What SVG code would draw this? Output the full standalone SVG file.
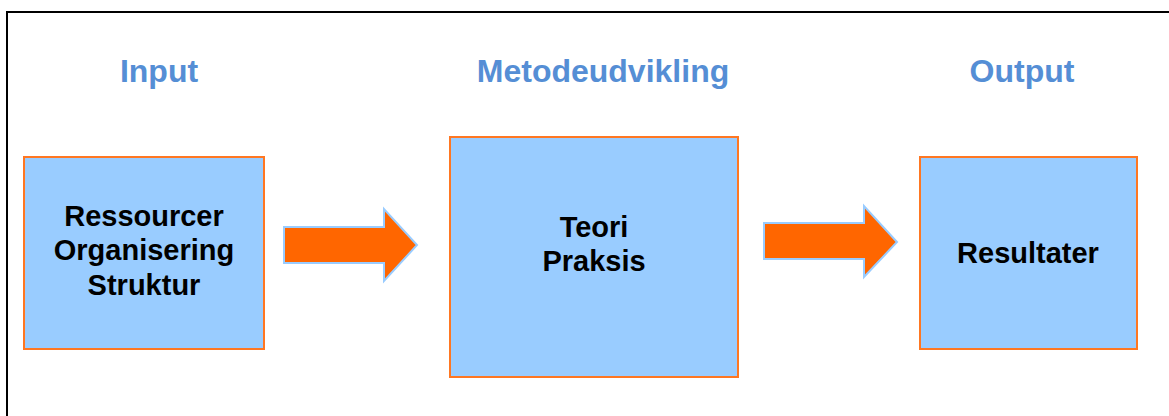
<svg xmlns="http://www.w3.org/2000/svg" width="1169" height="416" viewBox="0 0 1169 416">
<style>
.title{font-family:"Liberation Sans",Arial,sans-serif;font-weight:bold;font-size:32px;fill:#558ED5;text-anchor:middle}
.lbl{font-family:"Liberation Sans",Arial,sans-serif;font-weight:bold;font-size:29px;fill:#000;text-anchor:middle}
.box{fill:#99CCFF;stroke:#FF7722;stroke-width:2}
.arrow{fill:#FF6600;stroke:#99CCFF;stroke-width:2;stroke-linejoin:miter}
</style>
<rect width="1169" height="416" fill="#fff"/>
<rect x="7" y="12" width="1200" height="450" fill="none" stroke="#000" stroke-width="2"/>
<text class="title" x="159" y="82">Input</text>
<text class="title" x="603" y="82">Metodeudvikling</text>
<text class="title" x="1022" y="82">Output</text>
<g id="input">
<rect class="box" x="24" y="157" width="240" height="192"/>
<text class="lbl" x="144" y="226">Ressourcer</text>
<text class="lbl" x="144" y="260">Organisering</text>
<text class="lbl" x="144" y="295">Struktur</text>
</g>
<g id="metode">
<rect class="box" x="450" y="137" width="288" height="240"/>
<text class="lbl" x="594" y="237">Teori</text>
<text class="lbl" x="594" y="271">Praksis</text>
</g>
<g id="output">
<rect class="box" x="920" y="157" width="217" height="192"/>
<text class="lbl" x="1028" y="263">Resultater</text>
</g>
<g id="connectors">
<polygon class="arrow" points="284,227 384,227 384,209 417,245 384,281 384,263 284,263"/>
<polygon class="arrow" points="764,223 864,223 864,206 897,242 864,277 864,259 764,259"/>
</g>
</svg>
